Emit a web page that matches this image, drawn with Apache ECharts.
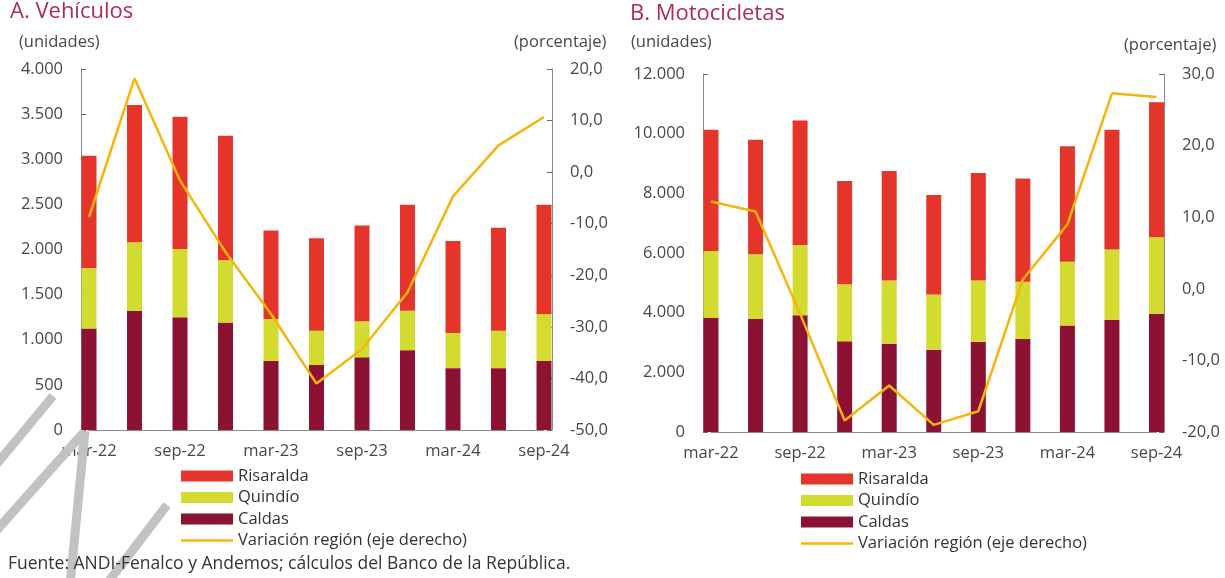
<!DOCTYPE html>
<html>
<head>
<meta charset="utf-8">
<script src="https://cdn.jsdelivr.net/npm/echarts@6/dist/echarts.min.js"></script>
<style>
  html, body { margin: 0; padding: 0; background: #fff; }
  #main { width: 1225px; height: 578px; }
</style>
</head>
<body>
<div id="main"></div>
<script>
  // trimestres (etiquetas mostradas cada dos)
  var categories = ['mar-22', 'jun-22', 'sep-22', 'dic-22', 'mar-23', 'jun-23', 'sep-23', 'dic-23', 'mar-24', 'jun-24', 'sep-24'];

  // A. Vehículos (unidades)
  var vehCaldas    = [1125, 1320, 1250, 1190, 765, 720, 805, 885, 685, 685, 765];
  var vehQuindio   = [670, 760, 755, 690, 465, 380, 400, 435, 390, 415, 520];
  var vehRisaralda = [1245, 1520, 1465, 1380, 980, 1025, 1060, 1175, 1020, 1140, 1210];
  var vehVariacion = [-8.7, 18.2, -1.6, -15.5, -27.5, -41.0, -34.3, -23.3, -4.7, 5.2, 10.7];

  // B. Motocicletas (unidades)
  var motoCaldas    = [3820, 3790, 3910, 3040, 2960, 2760, 3020, 3120, 3570, 3760, 3960];
  var motoQuindio   = [2250, 2170, 2360, 1915, 2115, 1850, 2055, 1920, 2140, 2360, 2565];
  var motoRisaralda = [4060, 3840, 4170, 3460, 3675, 3330, 3605, 3455, 3865, 4010, 4525];
  var motoVariacion = [12.2, 10.8, -3.5, -18.4, -13.5, -19.0, -17.1, 1.3, 9.0, 27.3, 26.8];

  var colRis = '#e5352a';
  var colQui = '#d3da30';
  var colCal = '#8b1233';
  var colVar = '#f6b50a';
  var axisGrey = '#8a8a8a';
  var txt = '#474747';
  var font = '"Open Sans"';

  function miles(v) {
    return String(v).replace(/\B(?=(\d{3})+(?!\d))/g, '.');
  }
  function pct(v) {
    return v.toFixed(1).replace('.', ',');
  }

  function xAx(gi) {
    return {
      type: 'category', gridIndex: gi, data: categories, boundaryGap: false,
      axisLine: { lineStyle: { color: axisGrey, width: 1 } },
      axisTick: { show: false },
      axisLabel: { interval: 1, color: txt, fontFamily: font, fontSize: 16.5, margin: 13 }
    };
  }
  function yAx(gi, pos, min, max, step, fmt, off) {
    return {
      type: 'value', gridIndex: gi, position: pos, min: min, max: max, interval: step, offset: off,
      splitLine: { show: false },
      axisLine: { show: true, lineStyle: { color: axisGrey, width: 1 } },
      axisTick: { show: true, inside: true, length: 5, lineStyle: { color: '#666' } },
      axisLabel: { color: txt, fontFamily: font, fontSize: 16.5, margin: 18, formatter: fmt }
    };
  }
  function barS(name, xi, yi, data, color) {
    return {
      name: name, type: 'bar', stack: 's' + xi, xAxisIndex: xi, yAxisIndex: yi,
      data: data, barWidth: 15, clip: false, itemStyle: { color: color }
    };
  }
  function lineS(xi, yi, data) {
    return {
      name: 'Variación región (eje derecho)', type: 'line', xAxisIndex: xi, yAxisIndex: yi,
      data: data, symbol: 'none', z: 5, lineStyle: { color: colVar, width: 2.5 }, itemStyle: { color: colVar }
    };
  }
  function legendAt(left, top) {
    return {
      orient: 'vertical', left: left, top: top, itemWidth: 52, itemHeight: 11, itemGap: 3.5,
      textStyle: { color: '#333', fontFamily: font, fontSize: 16.5, lineHeight: 18 },
      data: [
        { name: 'Risaralda', icon: 'rect' },
        { name: 'Quindío', icon: 'rect' },
        { name: 'Caldas', icon: 'rect' },
        { name: 'Variación región (eje derecho)', icon: 'path://M0,0H104V5H0Z' }
      ]
    };
  }
  function label(x, y, text, opts) {
    return {
      type: 'text', left: x, top: y, z: 10,
      style: Object.assign({ text: text, fill: txt, font: '16.5px ' + font }, opts || {})
    };
  }
  function stroke(x1, y1, x2, y2) {
    return {
      type: 'line', z: 1, shape: { x1: x1, y1: y1, x2: x2, y2: y2 },
      style: { stroke: '#c2c2c2', lineWidth: 9 }
    };
  }

  var myChart = echarts.init(document.getElementById('main'));
  var option = {
    animation: false,
    grid: [
      { left: 89, top: 69, width: 455, height: 361 },
      { left: 711, top: 74, width: 445.5, height: 358 }
    ],
    xAxis: [xAx(0), xAx(1)],
    yAxis: [
      yAx(0, 'left', 0, 4000, 500, miles, 8),
      yAx(0, 'right', -50, 20, 10, pct, 8),
      yAx(1, 'left', 0, 12000, 2000, miles, 8),
      yAx(1, 'right', -20, 30, 10, pct, 7.5)
    ],
    legend: [legendAt(176, 462), legendAt(796, 465)],
    series: [
      barS('Caldas', 0, 0, vehCaldas, colCal),
      barS('Quindío', 0, 0, vehQuindio, colQui),
      barS('Risaralda', 0, 0, vehRisaralda, colRis),
      lineS(0, 1, vehVariacion),
      barS('Caldas', 1, 2, motoCaldas, colCal),
      barS('Quindío', 1, 2, motoQuindio, colQui),
      barS('Risaralda', 1, 2, motoRisaralda, colRis),
      lineS(1, 3, motoVariacion)
    ],
    graphic: [
      label(10, 1, 'A. Vehículos', { fill: '#b02a5c', font: '22px ' + font }),
      label(630, 3, 'B. Motocicletas', { fill: '#b02a5c', font: '22px ' + font }),
      label(19, 34, '(unidades)'),
      label(514, 34, '(porcentaje)'),
      label(631, 34, '(unidades)'),
      label(1124, 37, '(porcentaje)'),
      label(8, 555, 'Fuente: ANDI-Fenalco y Andemos; cálculos del Banco de la República.', { fill: '#333', font: '17.5px ' + font }),
      stroke(53, 396, -5, 466),
      stroke(85, 431, -5, 532),
      stroke(85, 431, 70, 585),
      stroke(167, 505, 106, 585)
    ]
  };
  myChart.setOption(option);
</script>
</body>
</html>
